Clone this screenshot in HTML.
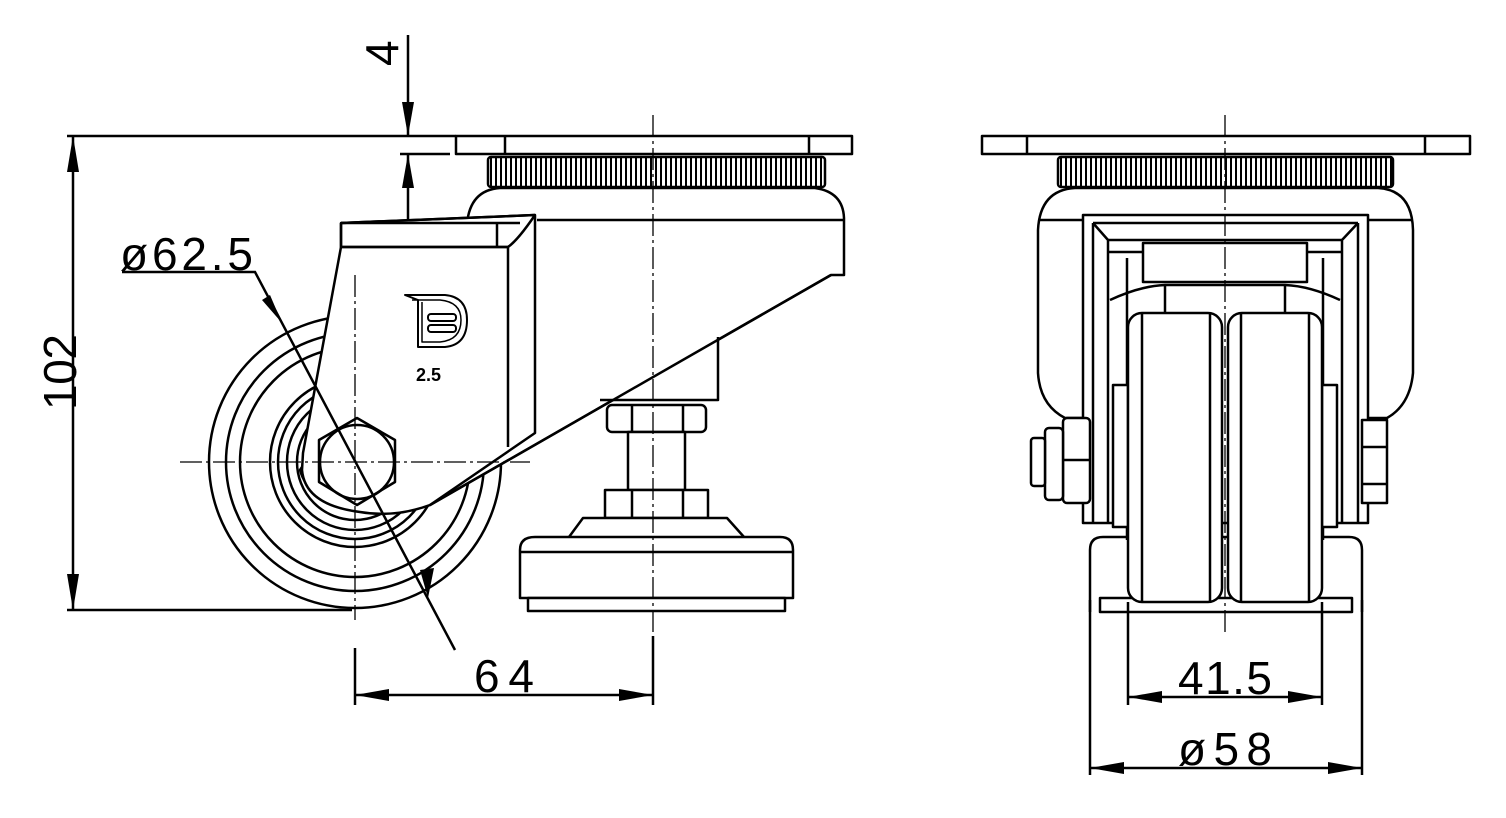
<!DOCTYPE html>
<html><head><meta charset="utf-8"><style>
html,body{margin:0;padding:0;background:#fff}
svg{display:block}
text{font-family:"Liberation Sans",sans-serif;fill:#000}
</style></head><body>
<svg width="1506" height="818" viewBox="0 0 1506 818" xmlns="http://www.w3.org/2000/svg">
<defs>
<pattern id="knurl" width="5" height="10" patternUnits="userSpaceOnUse"><rect width="5" height="10" fill="#fff"/><rect width="2" height="10" fill="#000"/></pattern>
</defs>
<g fill="none" stroke="#000" stroke-width="2.5" stroke-linejoin="round">
<!-- ===== LEFT VIEW ===== -->
<!-- wheel -->
<circle cx="355" cy="462" r="146" fill="#fff"/>
<circle cx="355" cy="462" r="129"/>
<circle cx="355" cy="462" r="115"/>
<circle cx="355" cy="462" r="85"/>
<circle cx="355" cy="462" r="77"/>
<circle cx="355" cy="462" r="68"/>
<circle cx="355" cy="462" r="58"/>
<!-- housing -->
<path d="M467,224 Q470,190 500,188 L815,188 Q843,192 844,218 L844,275 L831,275 L430,505 Q390,515 360,510 Q310,505 300,470 Z" fill="#fff"/>
<line x1="537" y1="220" x2="844" y2="220"/>
<!-- stem under housing -->
<path d="M600,400 L718,400 L718,337" fill="#fff"/>
<!-- fork -->
<path d="M341,223 L535,215 L535,433 L430,505 Q395,518 360,512 Q305,505 302,470 L303,453 L341,247 Z" fill="#fff"/>
<path d="M341,223 L535,215 M341,223 L341,247 L508,247 Q518,240 535,215" />
<line x1="341" y1="247" x2="508" y2="247"/>
<line x1="508" y1="247" x2="508" y2="447"/>
<line x1="497" y1="223" x2="497" y2="247"/>
<line x1="341" y1="223" x2="520" y2="223"/>
<!-- big diagonal -->
<path d="M831,275 L430,505"/>
<!-- hex nut -->
<polygon points="357,418 395,440 395,482 357,505 319,482 319,440" fill="#fff"/>
<circle cx="357" cy="462" r="37"/>
<!-- logo -->
<path d="M405,295 L445,295 Q467,297 467,320 Q467,345 445,347 L418,347 L418,300 Z" stroke-width="2"/>
<path d="M412,300 L440,300 Q461,302 461,320 Q461,340 440,342 L422,342 L422,302" stroke-width="1.5"/>
<rect x="428" y="314" width="28" height="7" rx="3" stroke-width="2"/>
<rect x="428" y="325" width="28" height="7" rx="3" stroke-width="2"/>
<!-- leveling foot -->
<rect x="607" y="405" width="99" height="27" rx="5" fill="#fff"/>
<line x1="632" y1="405" x2="632" y2="432"/><line x1="683" y1="405" x2="683" y2="432"/>
<rect x="628" y="432" width="57" height="58" fill="#fff"/>
<rect x="605" y="490" width="103" height="28" fill="#fff"/>
<line x1="632" y1="490" x2="632" y2="518"/><line x1="683" y1="490" x2="683" y2="518"/>
<path d="M569,537 L583,518 L727,518 L744,537" fill="#fff"/>
<path d="M520,598 L520,550 Q520,537 535,537 L780,537 Q793,537 793,550 L793,598 Z" fill="#fff"/>
<line x1="520" y1="552" x2="793" y2="552"/>
<rect x="528" y="598" width="257" height="13" fill="#fff"/>
<!-- ring & plate -->
<rect x="488" y="157" width="337" height="30" rx="3" fill="url(#knurl)"/>
<rect x="456" y="136" width="396" height="18" fill="#fff"/>
<line x1="505" y1="136" x2="505" y2="154"/><line x1="809" y1="136" x2="809" y2="154"/>

<!-- ===== RIGHT VIEW ===== -->
<path d="M1038,230 Q1040,190 1075,188 L1378,188 Q1412,190 1413,230 L1413,373 Q1410,405 1387,418 L1065,418 Q1040,405 1038,373 Z" fill="#fff"/>
<line x1="1038" y1="220" x2="1413" y2="220"/>
<!-- foot bottom -->
<path d="M1090,612 L1090,550 Q1090,537 1103,537 L1349,537 Q1362,537 1362,550 L1362,612" fill="#fff"/>
<rect x="1100" y="598" width="252" height="14"/>
<!-- fork -->
<path d="M1083,523 L1083,215 L1368,215 L1368,523 Z" fill="#fff"/>
<path d="M1093,223 L1358,223 M1093,223 L1093,523 M1358,223 L1358,523"/>
<path d="M1093,223 L1108,240 L1108,523 M1358,223 L1342,240 L1342,523"/>
<path d="M1108,240 L1342,240"/>
<rect x="1108" y="240" width="0" height="0"/>
<path d="M1108,252 L1342,252 M1127,258 L1127,540 M1323,258 L1323,540"/>
<rect x="1143" y="243" width="164" height="39" fill="#fff"/>
<path d="M1110,300 Q1140,286 1165,285 L1285,285 Q1310,286 1340,300"/>
<line x1="1165" y1="285" x2="1165" y2="313"/><line x1="1285" y1="285" x2="1285" y2="313"/>
<rect x="1113" y="385" width="15" height="142" fill="#fff"/>
<rect x="1322" y="385" width="15" height="142" fill="#fff"/>
<!-- wheels -->
<rect x="1128" y="313" width="94" height="289" rx="14" fill="#fff"/>
<line x1="1142" y1="314" x2="1142" y2="601"/><line x1="1210" y1="314" x2="1210" y2="601"/>
<rect x="1228" y="313" width="94" height="289" rx="14" fill="#fff"/>
<line x1="1241" y1="314" x2="1241" y2="601"/><line x1="1309" y1="314" x2="1309" y2="601"/>
<!-- bolts -->
<rect x="1063" y="418" width="27" height="85" rx="4" fill="#fff"/>
<line x1="1063" y1="460" x2="1090" y2="460"/>
<rect x="1045" y="428" width="18" height="72" rx="4" fill="#fff"/>
<rect x="1031" y="438" width="14" height="48" rx="3" fill="#fff"/>
<rect x="1362" y="420" width="25" height="83" fill="#fff"/>
<line x1="1362" y1="447" x2="1387" y2="447"/><line x1="1362" y1="484" x2="1387" y2="484"/>
<!-- ring & plate -->
<rect x="1058" y="157" width="335" height="30" rx="3" fill="url(#knurl)"/>
<rect x="982" y="136" width="488" height="18" fill="#fff"/>
<line x1="1027" y1="136" x2="1027" y2="154"/><line x1="1425" y1="136" x2="1425" y2="154"/>
</g>

<!-- centerlines -->
<g stroke="#000" stroke-width="1.3" stroke-dasharray="22,4,3,4" fill="none">
<line x1="653" y1="115" x2="653" y2="700"/>
<line x1="355" y1="275" x2="355" y2="620"/>
<line x1="180" y1="462" x2="530" y2="462"/>
<line x1="1225" y1="115" x2="1225" y2="635"/>
</g>

<!-- dimensions -->
<g stroke="#000" stroke-width="2.5" fill="none">
<line x1="67" y1="136" x2="456" y2="136"/>
<line x1="67" y1="610" x2="352" y2="610"/>
<line x1="73" y1="136" x2="73" y2="610"/>
<line x1="408" y1="35" x2="408" y2="136"/>
<line x1="408" y1="154" x2="408" y2="220"/>
<line x1="400" y1="154" x2="450" y2="154"/>
<polyline points="122,272 255,272 455,650"/>
<line x1="355" y1="648" x2="355" y2="705"/>
<line x1="653" y1="636" x2="653" y2="705"/>
<line x1="355" y1="695" x2="653" y2="695"/>
<line x1="1128" y1="602" x2="1128" y2="705"/>
<line x1="1322" y1="602" x2="1322" y2="705"/>
<line x1="1128" y1="697" x2="1322" y2="697"/>
<line x1="1090" y1="600" x2="1090" y2="775"/>
<line x1="1362" y1="600" x2="1362" y2="775"/>
<line x1="1090" y1="768" x2="1362" y2="768"/>
</g>
<g fill="#000">
<polygon points="73,136 67,172 79,172"/>
<polygon points="73,610 67,574 79,574"/>
<polygon points="408,136 402,102 414,102"/>
<polygon points="408,154 402,188 414,188"/>
<polygon points="282,323 270,295 262,300"/>
<polygon points="428,598 420,570 434,568"/>
<polygon points="355,695 389,689 389,701"/>
<polygon points="653,695 619,689 619,701"/>
<polygon points="1128,697 1162,691 1162,703"/>
<polygon points="1322,697 1288,691 1288,703"/>
<polygon points="1090,768 1124,762 1124,774"/>
<polygon points="1362,768 1328,762 1328,774"/>
</g>
<g font-size="46">
<text x="120" y="270" textLength="133">ø62.5</text>
<text x="474" y="692" textLength="60">64</text>
<text x="1178" y="694" textLength="94">41.5</text>
<text x="1178" y="765" textLength="94">ø58</text>
<text transform="translate(76,410) rotate(-90)" textLength="76">102</text>
<text transform="translate(398,66) rotate(-90)">4</text>
</g>
<text x="416" y="381" font-size="18" font-weight="bold">2.5</text>
</svg>
</body></html>
